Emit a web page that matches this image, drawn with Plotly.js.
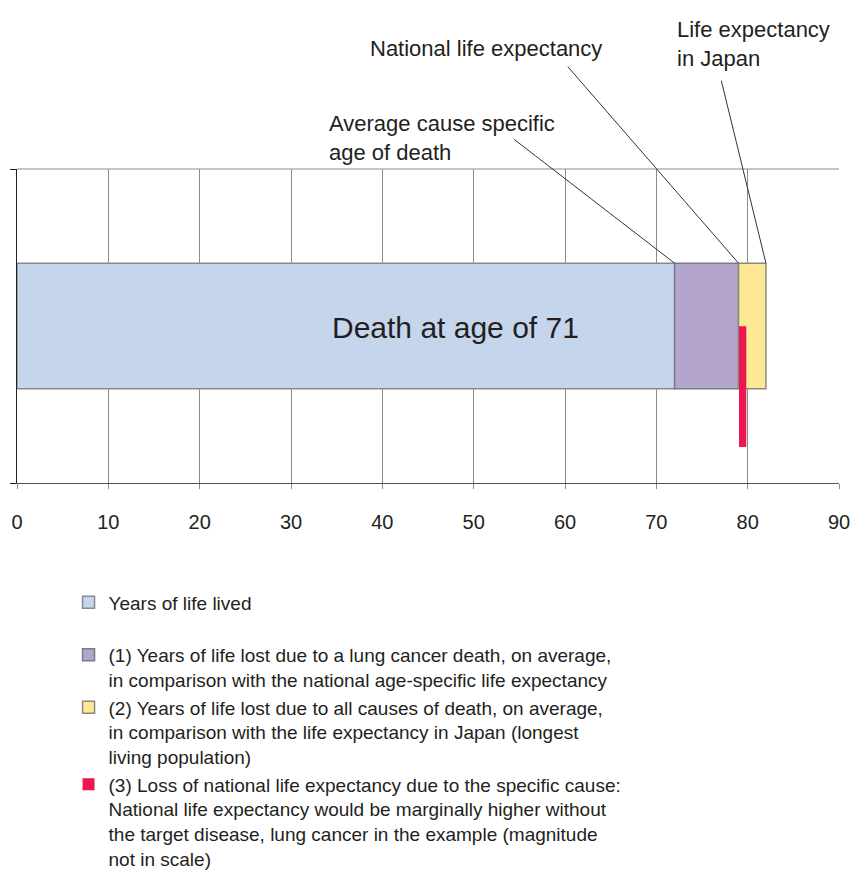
<!DOCTYPE html>
<html>
<head>
<meta charset="utf-8">
<script src="https://cdn.plot.ly/plotly-3.0.1.min.js"></script>
<style>
  html, body { margin: 0; padding: 0; background: #ffffff; }
  #chart { width: 851px; height: 886px; }
</style>
</head>
<body>
<div id="chart"></div>
<script>
// ---- data ----
const seriesNames = [
  "Years of life lived<br> ",
  "(1) Years of life lost due to a lung cancer death, on average,<br>in comparison with the national age-specific life expectancy",
  "(2) Years of life lost due to all causes of death, on average,<br>in comparison with the life expectancy in Japan (longest<br>living population)",
  "(3) Loss of national life expectancy due to the specific cause:<br>National life expectancy would be marginally higher without<br>the target disease, lung cancer in the example (magnitude<br>not in scale)"
];
const segmentStart  = [0, 72, 79, 79.05];
const segmentLength = [72, 7, 3, 0.8];
const xTickValues = [0, 10, 20, 30, 40, 50, 60, 70, 80, 90];
const xTickLabels = ["0", "10", "20", "30", "40", "50", "60", "70", "80", "90"];
const ageAtDeath = 71;
const markerAges = [72, 79, 82]; // average cause specific age, national LE, Japan LE
const markerLabels = [
  "Average cause specific<br>age of death",
  "National life expectancy",
  "Life expectancy<br>in Japan"
];

// ---- styles ----
const fills = ["#c5d5ec", "#b4a5cc", "#fde995", "#ec1651"];
const outlines = ["#8a8a8a", "#7a7a8a", "#8a8a7a", "#b0103c"];
const outlineWidths = [1.5, 1.5, 1.5, 0];
const barCenters = [0.5, 0.5, 0.5, 0.307];
const barWidths = [0.4, 0.4, 0.4, 0.385];
const FONT = "Liberation Sans, Arial, sans-serif";
const TXT = "#231f20";

const traces = seriesNames.map((name, i) => ({
  type: "bar",
  orientation: "h",
  name: name,
  x: [segmentLength[i]],
  base: [segmentStart[i]],
  y: [barCenters[i]],
  width: [barWidths[i]],
  marker: { color: fills[i], line: { color: outlines[i], width: outlineWidths[i] } },
  hoverinfo: "skip"
}));

const barTop = barCenters[0] + barWidths[0] / 2;
const annotations = [
  {
    x: 48, y: 0.494, xref: "x", yref: "y",
    text: "Death at age of " + ageAtDeath, showarrow: false,
    font: { family: FONT, size: 30, color: TXT }
  },
  {
    x: 0.377, y: 1.19, xref: "paper", yref: "paper", xanchor: "left", yanchor: "top", align: "left",
    text: markerLabels[0], showarrow: false, font: { family: FONT, size: 22, color: TXT }
  },
  {
    x: 0.427, y: 1.431, xref: "paper", yref: "paper", xanchor: "left", yanchor: "top", align: "left",
    text: markerLabels[1], showarrow: false, font: { family: FONT, size: 22, color: TXT }
  },
  {
    x: 0.80, y: 1.49, xref: "paper", yref: "paper", xanchor: "left", yanchor: "top", align: "left",
    text: markerLabels[2], showarrow: false, font: { family: FONT, size: 22, color: TXT }
  }
];
const arrowOffsets = [[-162, -125], [-172, -198], [-45, -184]];
markerAges.forEach((age, i) => {
  annotations.push({
    x: age, y: barTop, xref: "x", yref: "y", text: "",
    showarrow: true, arrowhead: 0, arrowwidth: 1, arrowcolor: "#333333",
    ax: arrowOffsets[i][0], ay: arrowOffsets[i][1], standoff: 0, startstandoff: 0
  });
});

const layout = {
  width: 851, height: 886,
  margin: { l: 17, r: 12, t: 169, b: 403, pad: 0, autoexpand: false },
  paper_bgcolor: "#ffffff", plot_bgcolor: "#ffffff",
  barmode: "overlay",
  showlegend: true,
  font: { family: FONT, color: TXT },
  xaxis: {
    range: [0, 90], tickvals: xTickValues, ticktext: xTickLabels,
    showgrid: true, gridcolor: "#8c8c8c", gridwidth: 1,
    showline: true, linecolor: "#555555", linewidth: 1,
    ticks: "outside", ticklen: 5, tickcolor: "#8c8c8c",
    tickfont: { family: FONT, size: 20, color: TXT },
    ticklabelstandoff: 16, zeroline: false, fixedrange: true, automargin: false
  },
  yaxis: {
    range: [0, 1], tickvals: [0, 1], ticktext: ["", ""],
    showgrid: false, zeroline: false,
    showline: true, linecolor: "#222222", linewidth: 1,
    ticks: "outside", ticklen: 6, tickcolor: "#222222", fixedrange: true, automargin: false
  },
  shapes: [
    { type: "line", xref: "paper", yref: "paper", x0: 0, x1: 1, y0: 1, y1: 1,
      line: { color: "#8c8c8c", width: 1 }, layer: "below" }
  ],
  legend: {
    x: 0.0627, y: 0.3414, xref: "paper", yref: "container", xanchor: "left", yanchor: "top",
    traceorder: "normal", valign: "top",
    font: { family: FONT, size: 19, color: TXT },
    bgcolor: "rgba(0,0,0,0)", itemclick: false, itemdoubleclick: false
  },
  annotations: annotations
};

Plotly.newPlot("chart", traces, layout, { displayModeBar: false, staticPlot: true });
</script>
</body>
</html>
